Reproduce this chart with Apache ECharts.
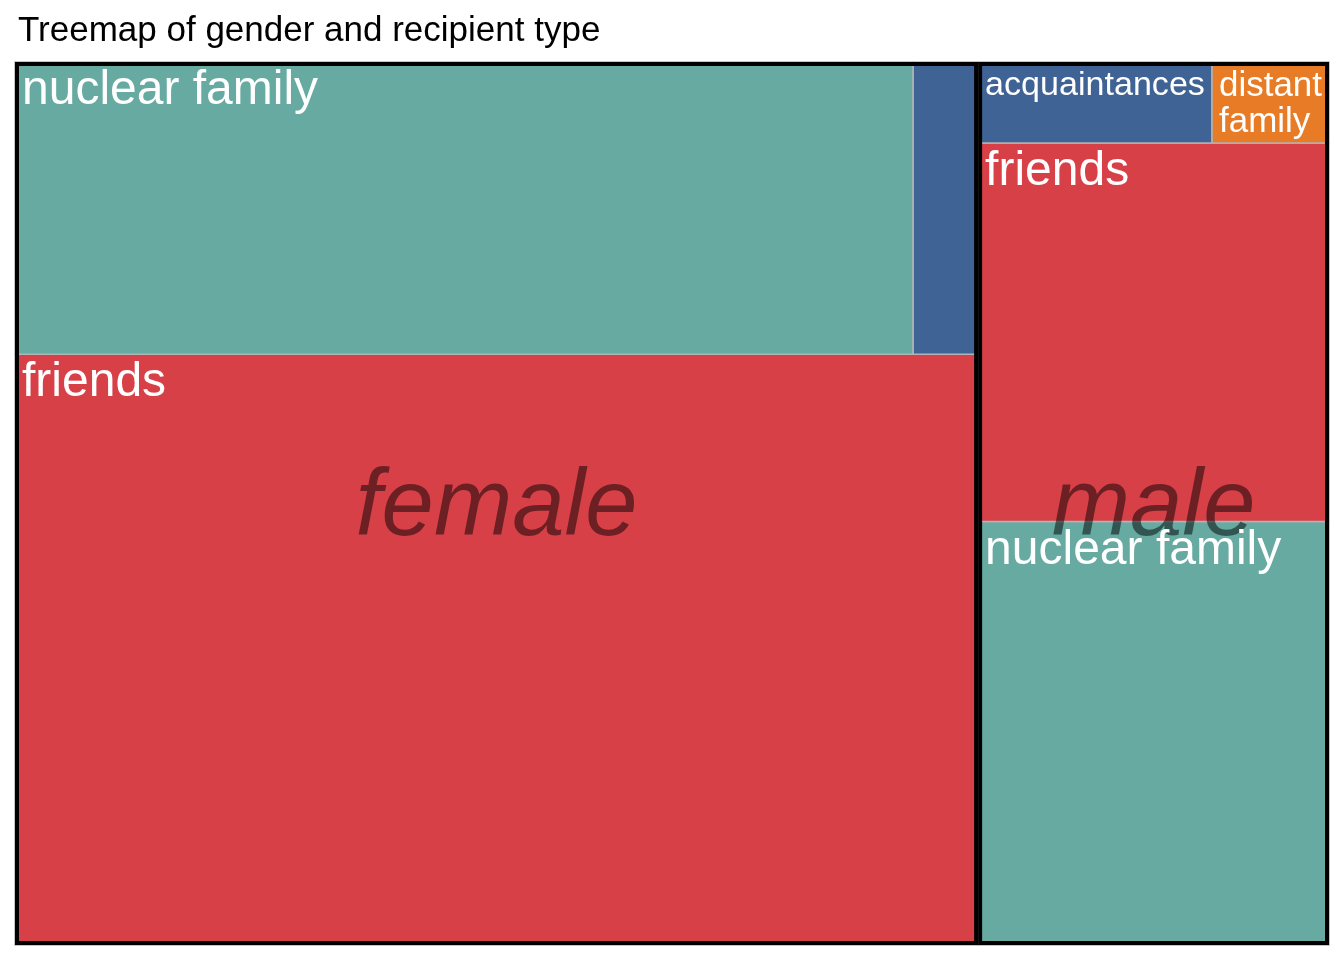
<!DOCTYPE html>
<html>
<head>
<meta charset="utf-8">
<title>Treemap of gender and recipient type</title>
<script src="https://cdn.jsdelivr.net/npm/echarts@6/dist/echarts.min.js"></script>
<style>
  html, body { margin: 0; padding: 0; background: #fff; }
  #chart { width: 1344px; height: 960px; }
</style>
</head>
<body>
<div id="chart"></div>
<script>
// counts
const genders = ['female', 'male'];
const recipients = ['friends', 'nuclear family', 'acquaintances', 'distant family'];
const femaleCounts = [180, 83, 6, 0];
const maleCounts = [42, 47, 6, 3];

const FONT = '"Liberation Sans", Arial, Helvetica, sans-serif';
const colors = {
  'friends': '#d84048',
  'nuclear family': '#66aaa2',
  'acquaintances': '#3f6394',
  'distant family': '#e87b26'
};

// squarified layout in a 100 x 100 unit square (y grows upward),
// rows go along the shorter side, starting bottom-left
function worst(row, side) {
  const s = row.reduce((a, n) => a + n.area, 0);
  const thick = s / side;
  let m = 0;
  row.forEach(n => {
    const len = n.area / thick;
    m = Math.max(m, len / thick, thick / len);
  });
  return m;
}

function squarify(items, rect) {
  const total = items.reduce((a, d) => a + d.count, 0);
  const scale = rect.w * rect.h / total;
  const nodes = items.filter(d => d.count > 0)
    .sort((a, b) => b.count - a.count)
    .map(d => Object.assign({}, d, { area: d.count * scale }));
  const r = Object.assign({}, rect);
  const out = [];
  let i = 0;
  while (i < nodes.length) {
    const horizontal = r.w < r.h;
    const side = horizontal ? r.w : r.h;
    let row = [nodes[i++]];
    let best = worst(row, side);
    while (i < nodes.length) {
      const trial = row.concat(nodes[i]);
      const s = worst(trial, side);
      if (s > best) break;
      row = trial; best = s; i++;
    }
    const thick = row.reduce((a, n) => a + n.area, 0) / side;
    let off = 0;
    row.forEach(n => {
      const len = n.area / thick;
      if (horizontal) {
        out.push(Object.assign(n, { x0: r.x + off, x1: r.x + off + len, y0: r.y, y1: r.y + thick }));
      } else {
        out.push(Object.assign(n, { x0: r.x, x1: r.x + thick, y0: r.y + off, y1: r.y + off + len }));
      }
      off += len;
    });
    if (horizontal) { r.y += thick; r.h -= thick; } else { r.x += thick; r.w -= thick; }
  }
  return out;
}

const countsByGender = { female: femaleCounts, male: maleCounts };
const groupItems = genders.map(g => ({
  name: g,
  count: countsByGender[g].reduce((a, b) => a + b, 0)
}));
const groups = squarify(groupItems, { x: 0, y: 0, w: 100, h: 100 });

let tiles = [];
groups.forEach(g => {
  const kids = recipients.map((r, k) => ({ name: r, gender: g.name, count: countsByGender[g.name][k] }));
  tiles = tiles.concat(squarify(kids, { x: g.x0, y: g.y0, w: g.x1 - g.x0, h: g.y1 - g.y0 }));
});

const tileData = tiles.map(t => ({
  name: t.name,
  value: [t.x0, t.y0, t.x1, t.y1, t.count],
  itemStyle: { color: colors[t.name] }
}));
const groupData = groups.map(g => ({ name: g.name, value: [g.x0, g.y0, g.x1, g.y1, g.count] }));

// label fitting (shrink / reflow, drop when too small)
const measureCtx = document.createElement('canvas').getContext('2d');
function textWidth(s, size) {
  measureCtx.font = size + 'px ' + FONT;
  return measureCtx.measureText(s).width;
}
function fitLabel(label, w, h) {
  const pad = 7;
  const aw = w - 2 * pad, ah = h - 2 * pad;
  const options = [[label]];
  const words = label.split(' ');
  if (words.length > 1) options.push(words);
  let best = null;
  options.forEach(lines => {
    const maxW = Math.max.apply(null, lines.map(l => textWidth(l, 100) / 100));
    const fs = Math.min(48, aw / maxW, ah / (lines.length * 0.95));
    if (!best || fs > best.fs + 0.01) best = { fs: fs, lines: lines };
  });
  return best.fs < 13 ? null : best;
}

function boxOf(api) {
  const p0 = api.coord([api.value(0), api.value(3)]);
  const p1 = api.coord([api.value(2), api.value(1)]);
  return { x: p0[0], y: p0[1], width: p1[0] - p0[0], height: p1[1] - p0[1] };
}

const chart = echarts.init(document.getElementById('chart'));
chart.setOption({
  animation: false,
  backgroundColor: '#ffffff',
  title: {
    text: 'Treemap of gender and recipient type',
    left: 18,
    top: 14,
    padding: 0,
    textStyle: { fontSize: 35, fontWeight: 'normal', color: '#000', fontFamily: FONT, lineHeight: 35 }
  },
  grid: { left: 15, right: 15, top: 62, bottom: 15 },
  xAxis: { type: 'value', min: 0, max: 100, show: false },
  yAxis: { type: 'value', min: 0, max: 100, show: false },
  series: [
    {
      // tiles
      type: 'custom',
      z: 1,
      encode: { x: [0, 2], y: [1, 3] },
      data: tileData,
      renderItem: function (params, api) {
        const b = boxOf(api);
        return {
          type: 'rect',
          shape: b,
          style: { fill: api.visual('color'), stroke: '#b3b3b3', lineWidth: 1.5 }
        };
      }
    },
    {
      // gender borders and names
      type: 'custom',
      z: 2,
      encode: { x: [0, 2], y: [1, 3] },
      data: groupData,
      renderItem: function (params, api) {
        const b = boxOf(api);
        return {
          type: 'group',
          children: [
            {
              type: 'rect',
              shape: { x: b.x + 2, y: b.y + 2, width: b.width - 4, height: b.height - 4 },
              style: { fill: 'none', stroke: '#000', lineWidth: 4 }
            },
            {
              type: 'text',
              x: b.x + b.width / 2,
              y: b.y + b.height / 2 + 5,
              style: {
                text: groupData[params.dataIndex].name,
                fill: 'rgba(0,0,0,0.5)',
                fontSize: 94,
                fontStyle: 'italic',
                fontFamily: FONT,
                align: 'center',
                verticalAlign: 'middle',
                lineHeight: 94
              }
            }
          ]
        };
      }
    },
    {
      // recipient labels
      type: 'custom',
      z: 3,
      encode: { x: [0, 2], y: [1, 3] },
      data: tileData,
      renderItem: function (params, api) {
        const b = boxOf(api);
        const fit = fitLabel(tileData[params.dataIndex].name, b.width, b.height);
        if (!fit) return { type: 'group', children: [] };
        const fs = fit.fs;
        const lh = fit.lines.length > 1 ? fs * 1.05 : fs;
        const top = b.y + 10.5 + 0.73 * fs - (lh / 2 + 0.3465 * fs);
        return {
          type: 'text',
          x: b.x + 7,
          y: top,
          style: {
            text: fit.lines.join('\n'),
            fill: '#fff',
            fontSize: fs,
            fontFamily: FONT,
            align: 'left',
            verticalAlign: 'top',
            lineHeight: lh
          }
        };
      }
    }
  ]
});
</script>
</body>
</html>
